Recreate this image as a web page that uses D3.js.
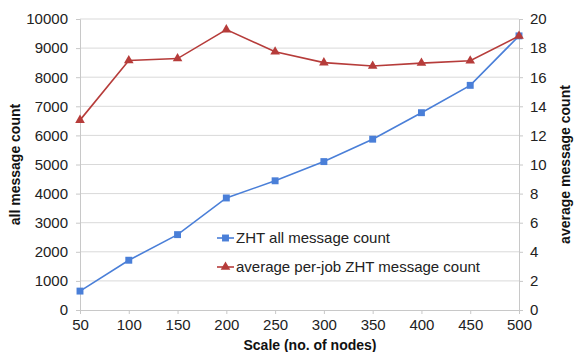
<!DOCTYPE html>
<html><head><meta charset="utf-8">
<script src="https://cdn.jsdelivr.net/npm/d3@7"></script>
<style>body{margin:0;background:#fff}svg{display:block}text{font-family:"Liberation Sans",Arial,sans-serif}</style>
</head><body><svg id="c" width="577" height="352"></svg>
<script>
const scales = [50,100,150,200,250,300,350,400,450,500];
const allCount = [650,1710,2590,3850,4440,5100,5870,6780,7720,9420];
const avgCount = [13.05,17.15,17.28,19.27,17.75,17.0,16.77,16.97,17.13,18.83];
const leftTicks = [0,1000,2000,3000,4000,5000,6000,7000,8000,9000,10000];
const rightTicks = [0,2,4,6,8,10,12,14,16,18,20];
const seriesNames = ["ZHT all message count","average per-job ZHT message count"];

const svg = d3.select("#c");
const L=80,R=519,T=19,B=310;
const x = d3.scaleLinear().domain([50,500]).range([L,R]);
const yL = d3.scaleLinear().domain([0,10000]).range([B,T]);
const yR = d3.scaleLinear().domain([0,20]).range([B,T]);
const blue="#4a7fd8", red="#b63c3a", grid="#d9d9d9", fs=15;

// gridlines
svg.append("g").selectAll("line").data(leftTicks.slice(1)).join("line")
  .attr("x1",L).attr("x2",R).attr("y1",d=>yL(d)).attr("y2",d=>yL(d))
  .attr("stroke",grid).attr("stroke-width",1);

// axes
const axL = svg.append("g").attr("transform",`translate(${L},0)`)
  .call(d3.axisLeft(yL).tickValues(leftTicks).tickFormat(d3.format("d")).tickSize(4).tickPadding(8));
const axR = svg.append("g").attr("transform",`translate(${R},0)`)
  .call(d3.axisRight(yR).tickValues(rightTicks).tickFormat(d3.format("d")).tickSize(4).tickPadding(7));
const axB = svg.append("g").attr("transform",`translate(0,${B})`)
  .call(d3.axisBottom(x).tickValues(scales).tickFormat(d3.format("d")).tickSize(4).tickPadding(5));
[axL,axR,axB].forEach(a=>{
  a.selectAll("path,line").attr("stroke","#c8c8c8");
  a.selectAll("text").attr("font-size",fs).attr("fill","#222")
   .style("font-family",'"Liberation Sans",Arial,sans-serif');
});

// lines
const line = (ys,arr)=>d3.line().x((d,i)=>x(scales[i])).y(d=>ys(d))(arr);
svg.append("path").attr("d",line(yL,allCount)).attr("fill","none").attr("stroke",blue).attr("stroke-width",1.6);
svg.append("path").attr("d",line(yR,avgCount)).attr("fill","none").attr("stroke",red).attr("stroke-width",1.6);

const sq = d3.symbol().type(d3.symbolSquare).size(48);
const tri = d3.symbol().type(d3.symbolTriangle).size(40);
svg.append("g").selectAll("path").data(allCount).join("path")
  .attr("d",sq).attr("fill",blue)
  .attr("transform",(d,i)=>`translate(${x(scales[i])},${yL(d)})`);
svg.append("g").selectAll("path").data(avgCount).join("path")
  .attr("d",tri).attr("fill",red)
  .attr("transform",(d,i)=>`translate(${x(scales[i])},${yR(d)})`);

// legend
const lg = svg.append("g");
[[blue,sq,238],[red,tri,267]].forEach(([c,s,y],i)=>{
  lg.append("line").attr("x1",217).attr("x2",234).attr("y1",y).attr("y2",y).attr("stroke",c).attr("stroke-width",1.6);
  lg.append("path").attr("d",s).attr("fill",c).attr("transform",`translate(225.5,${y})`);
  lg.append("text").attr("x",236).attr("y",y).attr("dy","0.35em").attr("font-size",fs).attr("fill","#222").text(seriesNames[i]);
});

// titles
svg.append("text").attr("transform",`translate(20,164.5) rotate(-90)`).attr("text-anchor","middle")
  .attr("font-size",14).attr("font-weight","bold").attr("fill","#111").text("all message count");
svg.append("text").attr("transform",`translate(570,164.5) rotate(-90)`).attr("text-anchor","middle")
  .attr("font-size",14).attr("font-weight","bold").attr("fill","#111").text("average message count");
svg.append("text").attr("x",310).attr("y",350).attr("text-anchor","middle")
  .attr("font-size",14).attr("font-weight","bold").attr("fill","#111").text("Scale (no. of nodes)");
</script></body></html>
